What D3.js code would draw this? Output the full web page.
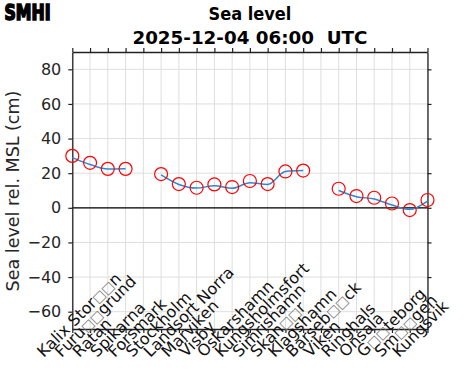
<!DOCTYPE html>
<html>
<head>
<meta charset="utf-8">
<script src="https://cdn.jsdelivr.net/npm/d3@7"></script>
<style>
  body { margin: 0; background: #fff; }
  svg { display: block; }
</style>
</head>
<body>
<svg id="chart" width="471" height="371"></svg>
<script>
// station names (Swedish letters show as missing-glyph boxes in the original)
const stations = ["Kalix Stor□□n", "Furu□□grund", "Ratan", "Spikarna", "Forsmark",
  "Stockholm", "Landsort Norra", "Marviken", "Visby", "Oskarshamn", "Kungsholmsfort",
  "Simrishamn", "Skan□□r", "Klagshamn", "Barseb□□ck", "Viken", "Ringhals", "Onsala",
  "G□□teborg", "Sm□□gen", "Kungsvik"];
// observed sea level (red circles), cm
const observed = [30, 26, 22.5, 22.5, null, 19.5, 13.7, 11.6, 13.5, 12, 15.5,
  13.7, 21, 21.5, null, 11, 6.8, 5.8, 2.5, -1.3, 4.5];
// model line (blue), cm
const model = [29, 25, 22.4, 22.5, null, 19, 13.5, 11.4, 12.8, 11.3, 14.5,
  13.5, 21, 21.5, null, 10, 6.4, 5.1, 1.6, -0.9, 3.9];
const yTicks = [-60, -40, -20, 0, 20, 40, 60, 80];

const svg = d3.select("#chart");
const mL = 72.3, mR = 427.5, mT = 52, mB = 329;

const x = d3.scalePoint().domain(stations).range([mL, mR]);
const y = d3.scaleLinear().domain([-70, 90]).range([mB, mT]);

// grid
const grid = svg.append("g").attr("stroke", "#dedede").attr("stroke-width", 1);
grid.selectAll(".gx").data(stations).join("line")
  .attr("x1", d => x(d)).attr("x2", d => x(d))
  .attr("y1", mT).attr("y2", mB);
grid.selectAll(".gy").data(yTicks).join("line")
  .attr("x1", mL).attr("x2", mR)
  .attr("y1", d => y(d)).attr("y2", d => y(d));

// zero line
svg.append("line")
  .attr("x1", mL).attr("x2", mR)
  .attr("y1", y(0)).attr("y2", y(0))
  .attr("stroke", "#000").attr("stroke-width", 1.2);

// axes
const axStyle = g => {
  g.select(".domain").attr("stroke", "#222").attr("stroke-width", 1.3);
  g.selectAll(".tick line").attr("stroke", "#222").attr("stroke-width", 1.2);
};
svg.append("g").attr("transform", `translate(0,${mT})`)
  .call(d3.axisTop(x).tickSize(4).tickSizeOuter(0).tickFormat(""))
  .call(axStyle);
svg.append("g").attr("transform", `translate(${mR},0)`)
  .call(d3.axisRight(y).tickValues(yTicks).tickSize(4).tickSizeOuter(0).tickFormat(""))
  .call(axStyle);
svg.append("g").attr("transform", `translate(${mL},0)`)
  .call(d3.axisLeft(y).tickValues(yTicks).tickSize(4).tickSizeOuter(0).tickPadding(7))
  .call(axStyle)
  .call(g => g.selectAll("text")
    .attr("font-family", "DejaVu Sans").attr("font-size", 16).attr("fill", "#262626"));
svg.append("g").attr("transform", `translate(0,${mB})`)
  .call(d3.axisBottom(x).tickSize(4).tickSizeOuter(0))
  .call(axStyle)
  .call(g => g.selectAll("text")
    .attr("x", 0).attr("y", 0).attr("dy", null)
    .attr("text-anchor", "start")
    .attr("transform", "translate(-29,29) rotate(-45)")
    .attr("font-family", "DejaVu Sans").attr("font-size", 16).attr("fill", "#111")
    .each(function (d) {
      // smaller boxes for the missing glyphs
      const t = d3.select(this).text(null);
      d.split(/(□+)/).filter(s => s).forEach(s => {
        const sp = t.append("tspan").text(s);
        if (s[0] === "□") sp.attr("font-size", 13).attr("fill", "#777");
      });
    }));

// model line
const idx = d3.range(stations.length);
svg.append("path")
  .datum(idx)
  .attr("fill", "none")
  .attr("stroke", "#2e86d4")
  .attr("stroke-width", 1.5)
  .attr("d", d3.line()
    .defined(i => model[i] != null)
    .curve(d3.curveMonotoneX)
    .x(i => x(stations[i]))
    .y(i => y(model[i])));

// observations
svg.append("g").selectAll("circle")
  .data(idx.filter(i => observed[i] != null))
  .join("circle")
  .attr("cx", i => x(stations[i]))
  .attr("cy", i => y(observed[i]))
  .attr("r", 6.5)
  .attr("fill", "none")
  .attr("stroke", "#ff0000")
  .attr("stroke-width", 1.2);

// y label
svg.append("text")
  .attr("transform", "translate(18.5,191) rotate(-90)")
  .attr("text-anchor", "middle")
  .attr("font-family", "DejaVu Sans").attr("font-size", 17.5).attr("fill", "#262626")
  .text("Sea level rel. MSL (cm)");

// titles
const cx = (mL + mR) / 2;
svg.append("text")
  .attr("x", cx).attr("y", 20)
  .attr("text-anchor", "middle")
  .attr("font-family", "DejaVu Sans Condensed, DejaVu Sans").attr("font-weight", "bold")
  .attr("font-stretch", "condensed")
  .attr("font-size", 18).text("Sea level");
svg.append("text")
  .attr("x", cx).attr("y", 43.5)
  .attr("text-anchor", "middle")
  .attr("font-family", "DejaVu Sans").attr("font-weight", "bold")
  .attr("font-size", 18.3)
  .style("white-space", "pre")
  .text("2025-12-04 06:00  UTC");

// logo
svg.append("text")
  .attr("x", 4.5).attr("y", 20)
  .attr("font-family", "DejaVu Sans Condensed, DejaVu Sans").attr("font-weight", "bold")
  .attr("font-size", 21.5)
  .attr("textLength", 46).attr("lengthAdjust", "spacingAndGlyphs")
  .attr("stroke", "#000").attr("stroke-width", 1.6)
  .text("SMHI");
</script>
</body>
</html>
